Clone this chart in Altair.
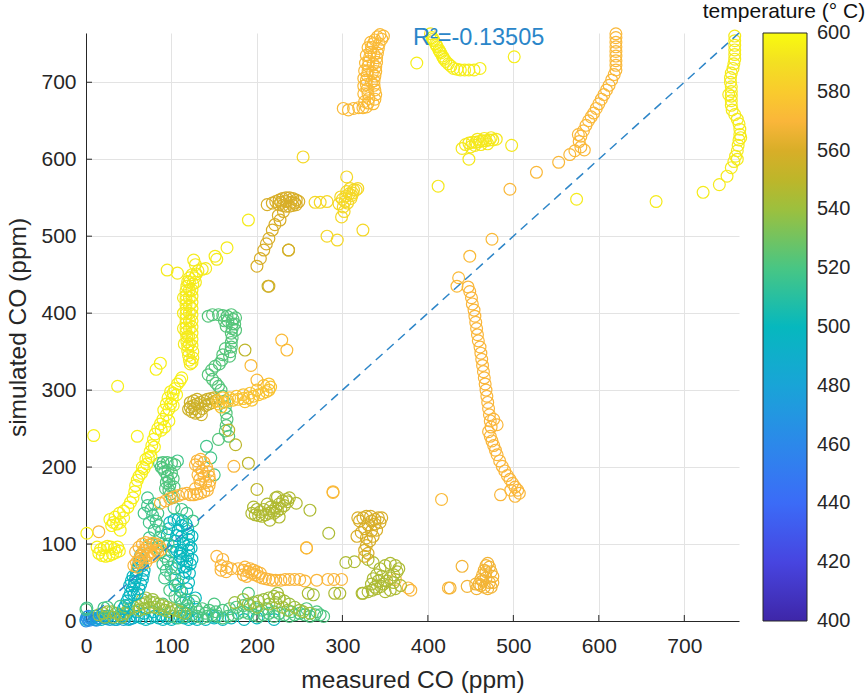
import altair as alt
import pandas as pd

FONT = "Liberation Sans"
INK = "#262626"

x_ticks = [0, 100, 200, 300, 400, 500, 600, 700]
y_ticks = [0, 100, 200, 300, 400, 500, 600, 700]
cbar_values = [400, 420, 440, 460, 480, 500, 520, 540, 560, 580, 600]
cbar_inner_ticks = [420, 440, 460, 480, 500, 520, 540, 560, 580]
temp_stops = [400, 420, 440, 460, 480, 500, 520, 540, 550, 560, 570, 580, 590, 600]
parula_colors = ["#3E26A8", "#4745E0", "#3B6BF7", "#2C88EA", "#19A4D7", "#06B8BE",
                 "#48C684", "#9CC03E", "#BDB62A", "#D8AE28", "#FAB63A", "#F9CB2D",
                 "#F3E022", "#F9FB0E"]
diag_line = [0, 764]
r2_value = -0.13505
x_title = "measured CO (ppm)"
y_title = "simulated CO (ppm)"
cbar_title = "temperature (\u00b0 C)"

# ---- measured / simulated CO point groups, each with its temperature ----
teal_bottom_temp = 500
teal_bottom_pts = [(0, 2), (5, 4), (10, 6), (14, 4), (18, 2), (22, 4), (26, 6), (30, 4), (34, 2), (38, 4),
                   (42, 6), (46, 4), (50, 2), (55, 4), (60, 6), (65, 4), (70, 2), (75, 4), (80, 6), (85, 4),
                   (90, 2), (95, 4), (100, 2), (105, 4), (110, 6), (115, 4), (120, 2), (125, 4), (130, 2),
                   (140, 2), (150, 4), (160, 2), (170, 4), (185, 2), (200, 4), (220, 2), (150, 6), (68, 10),
                   (78, 12), (88, 8), (58, 12), (48, 10), (118, 10), (128, 30), (112, 38), (120, 24)]
blue_origin_temp = 465
blue_origin_pts = [(0, 0), (2, 2), (4, 1), (6, 3), (8, 4), (1, 5), (3, 6), (10, 2), (12, 1)]
cyan_bottom_temp = 482
cyan_bottom_pts = [(12, 2), (16, 4), (20, 6), (24, 3), (28, 2), (36, 2), (44, 2), (52, 3)]
green_bottom_temp = 521
green_bottom_pts = [(0, 15), (25, 18), (50, 20), (90, 22), (100, 6), (108, 4), (116, 6), (124, 8), (130, 6),
                    (136, 4), (142, 6), (148, 8), (154, 6), (160, 4), (166, 6), (172, 8), (178, 10), (184, 12),
                    (190, 10), (196, 8), (202, 6), (208, 8), (214, 10), (220, 12), (226, 10), (232, 8),
                    (238, 6), (244, 8), (250, 10), (256, 8), (262, 6), (268, 8), (274, 8), (278, 6),
                    (112, 14), (120, 16), (128, 18), (136, 16), (144, 14), (152, 12), (160, 14), (168, 16),
                    (176, 18), (184, 20), (192, 20), (150, 22), (126, 26), (110, 30), (98, 40), (104, 32),
                    (118, 20), (132, 12), (140, 10), (198, 16), (206, 14), (212, 16), (220, 6), (240, 12),
                    (258, 16), (270, 12), (190, 36)]
olive_bottom_temp = 540
olive_bottom_pts = [(15, 8), (20, 10), (25, 12), (30, 12), (35, 10), (40, 8), (45, 10), (22, 5), (32, 5),
                    (42, 5), (50, 15), (56, 18), (60, 20), (65, 22), (70, 24), (75, 25), (80, 24), (85, 22),
                    (90, 20), (95, 18), (100, 16), (105, 14), (62, 14), (68, 16), (74, 18), (80, 18), (86, 16),
                    (92, 14), (98, 12), (70, 30), (78, 28), (66, 28), (110, 12), (115, 10), (190, 22),
                    (196, 24), (202, 26), (208, 28), (214, 30), (220, 32), (226, 30), (232, 26), (238, 22),
                    (244, 18), (250, 14), (214, 22), (222, 24), (230, 18), (236, 14), (200, 18), (224, 36),
                    (254, 12), (262, 10), (174, 24), (184, 28), (266, 34)]
teal_low_temp = 498
teal_low_pts = [(46, 20), (48, 26), (50, 31), (52, 36), (54, 41), (56, 46), (57, 51), (58, 56), (59, 61),
                (60, 66), (61, 71), (62, 76), (63, 81), (64, 86), (55, 58), (53, 52), (51, 46), (62, 42),
                (64, 48), (66, 54), (67, 60), (68, 66), (66, 72), (65, 78), (44, 16), (56, 34), (60, 36)]
teal_high_temp = 500
teal_high_pts = [(98, 128), (103, 131), (108, 132), (113, 130), (117, 126), (119, 120), (120, 113),
                 (120, 106), (120, 99), (120, 92), (119, 85), (118, 78), (117, 71), (116, 64), (112, 124),
                 (108, 118), (106, 111), (104, 104), (102, 97), (100, 90), (112, 110), (114, 101), (112, 92),
                 (110, 84), (108, 76), (105, 68), (97, 120), (95, 112), (122, 74), (121, 62), (114, 56),
                 (120, 50), (118, 42), (104, 46), (110, 88), (106, 92), (124, 80), (123, 95), (124, 110),
                 (114, 70), (113, 80)]
green_chain_temp = 518
green_chain_pts = [(80, 152), (76, 145), (78, 137), (82, 130), (85, 124), (88, 116), (86, 108), (90, 100),
                   (87, 90), (92, 84), (96, 78), (90, 74), (94, 66), (99, 60), (104, 55), (108, 48), (110, 40),
                   (80, 118), (74, 128), (84, 140), (103, 147), (112, 145), (118, 140), (125, 130), (72, 150),
                   (74, 108), (78, 100), (84, 96), (107, 208), (141, 227), (146, 212), (150, 190), (1, 17),
                   (21, 17), (40, 19), (112, 24), (117, 28), (72, 160), (68, 140), (96, 100), (100, 70),
                   (92, 56)]
green_col_temp = 522
green_col_pts = [(86, 205), (90, 206), (95, 206), (100, 205), (104, 203), (90, 198), (96, 196), (100, 192),
                 (95, 188), (97, 182), (98, 176), (97, 170), (99, 165), (101, 160), (94, 180), (102, 185),
                 (88, 200), (93, 172), (103, 174), (92, 194)]
orange_left_temp = 570
orange_left_pts = [(15, 116), (56, 72), (59, 76), (62, 80), (64, 84), (66, 88), (68, 92), (71, 96), (74, 99),
                   (78, 101), (82, 100), (86, 97), (88, 93), (84, 90), (80, 88), (76, 90), (72, 86), (68, 82),
                   (64, 76), (60, 70), (70, 76), (74, 82), (78, 84), (82, 92), (58, 90), (62, 96), (66, 100),
                   (70, 102)]
orange_mid_temp = 570
orange_mid_pts = [(130, 208), (134, 210), (138, 206), (141, 200), (143, 194), (144, 188), (145, 182),
                  (144, 176), (142, 170), (138, 168), (134, 166), (130, 165), (126, 164), (122, 164),
                  (132, 200), (136, 195), (138, 188), (140, 180), (134, 178), (128, 172), (131, 190),
                  (133, 184), (128, 203), (118, 166), (113, 165), (108, 163), (103, 161), (98, 159),
                  (93, 156), (87, 153), (173, 201)]
yellow_lower_temp = 596
yellow_lower_pts = [(9, 241), (1, 114), (15, 88), (19, 85), (23, 84), (27, 85), (31, 87), (35, 89), (39, 91),
                    (17, 93), (21, 95), (25, 97), (29, 96), (33, 94), (37, 96), (13, 96), (28, 132), (32, 128),
                    (36, 126), (40, 128), (30, 124), (34, 135), (39, 140), (44, 143), (49, 148), (52, 154),
                    (55, 160), (57, 168), (58, 176), (60, 183), (62, 188), (65, 192), (68, 198), (71, 204),
                    (73, 212), (75, 220), (77, 228), (79, 236), (81, 243), (84, 250), (87, 256), (90, 262),
                    (94, 268), (97, 275), (99, 282), (101, 289), (102, 296), (104, 302), (107, 308), (110, 312),
                    (96, 290), (94, 282), (91, 274), (99, 298), (37, 305), (60, 240), (87, 335), (82, 327),
                    (112, 316), (40, 118), (44, 134), (70, 210), (66, 200), (76, 214), (80, 226), (88, 248),
                    (92, 252), (97, 260), (102, 280), (106, 294)]
yellow_upper_temp = 594
yellow_upper_pts = [(95, 456), (107, 452), (128, 463), (140, 458), (153, 470), (165, 485), (190, 521),
                    (126, 469), (151, 474), (131, 455), (136, 457), (124, 450), (121, 446), (119, 441),
                    (118, 435), (117, 429), (117, 423), (117, 417), (117, 411), (117, 405), (117, 399),
                    (117, 393), (117, 387), (117, 381), (117, 375), (118, 369), (118, 363), (119, 357),
                    (119, 351), (120, 345), (121, 339), (122, 334), (124, 336), (125, 342), (125, 350),
                    (124, 358), (124, 366), (124, 374), (124, 382), (124, 390), (124, 398), (124, 406),
                    (124, 414), (124, 422), (124, 430), (125, 438), (127, 446), (129, 451), (121, 360),
                    (121, 380), (121, 400), (121, 420), (114, 380), (114, 400), (114, 420), (115, 360),
                    (128, 440), (121, 440), (120, 370), (121, 390), (121, 410), (121, 430)]
green_blob_temp = 523
green_blob_pts = [(143, 396), (148, 398), (155, 398), (160, 397), (165, 396), (170, 398), (172, 392),
                  (171, 386), (171, 380), (170, 374), (171, 368), (170, 362), (170, 356), (169, 350),
                  (168, 344), (175, 394), (174, 386), (175, 378), (166, 390), (162, 390), (164, 383),
                  (159, 339), (156, 334), (151, 331), (147, 326), (143, 320), (148, 314), (152, 309),
                  (155, 305), (158, 300), (160, 292), (162, 285), (163, 278), (164, 270), (165, 262),
                  (164, 254), (163, 247), (167, 240), (155, 236), (160, 346), (163, 354)]
olive_blob_temp = 556
olive_blob_pts = [(122, 278), (126, 280), (130, 282), (134, 284), (138, 286), (142, 288), (146, 289),
                  (150, 290), (124, 272), (128, 270), (132, 272), (136, 276), (140, 280), (144, 282),
                  (126, 286), (130, 288), (122, 284), (148, 284), (152, 286), (120, 275), (127, 276),
                  (135, 268)]
orange_band_temp = 576
orange_band_pts = [(155, 282), (160, 284), (166, 286), (172, 287), (178, 288), (184, 289), (190, 290),
                   (196, 292), (202, 294), (207, 296), (211, 298), (214, 300), (216, 304), (214, 308),
                   (208, 306), (200, 300), (192, 296), (184, 294), (176, 292), (168, 290), (160, 290),
                   (158, 278), (154, 286), (186, 285), (194, 287)]
olive_mid_temp = 546
olive_mid_pts = [(194, 140), (198, 138), (202, 137), (206, 136), (210, 138), (214, 140), (218, 143),
                 (222, 147), (226, 152), (230, 156), (234, 158), (236, 155), (232, 150), (228, 146),
                 (224, 143), (220, 140), (216, 148), (212, 152), (208, 145), (204, 142), (200, 145),
                 (196, 148), (238, 160), (224, 161), (226, 135), (215, 131), (246, 153), (222, 160)]
orange_low_temp = 570
orange_low_pts = [(153, 84), (158, 72), (165, 70), (170, 68), (178, 68), (184, 66), (190, 64), (194, 62),
                  (198, 60), (202, 58), (206, 56), (210, 55), (214, 54), (218, 53), (222, 53), (228, 53),
                  (233, 54), (238, 54), (244, 54), (250, 54), (256, 52), (270, 53), (158, 66), (164, 64),
                  (186, 70), (192, 68), (196, 66), (200, 64), (204, 62), (184, 60), (188, 58), (283, 54),
                  (290, 54), (299, 54), (362, 54), (377, 43), (380, 40), (424, 43), (289, 168), (258, 95),
                  (160, 80)]
olive_lowr_temp = 545
olive_lowr_pts = [(324, 36), (330, 38), (335, 40), (340, 42), (345, 45), (348, 48), (352, 52), (356, 56),
                  (360, 60), (364, 64), (366, 68), (362, 72), (356, 75), (350, 72), (344, 68), (340, 60),
                  (336, 55), (334, 48), (342, 52), (346, 58), (338, 44), (350, 38), (356, 40), (362, 42),
                  (368, 46), (360, 50), (291, 36), (297, 36), (323, 36), (314, 77), (262, 144), (284, 114),
                  (260, 36), (304, 76), (330, 80), (336, 76), (226, 30)]
golden_lowr_temp = 560
golden_lowr_pts = [(317, 110), (322, 115), (326, 120), (330, 125), (334, 130), (338, 132), (342, 134),
                   (320, 130), (324, 134), (328, 136), (333, 136), (338, 126), (340, 118), (336, 110),
                   (332, 104), (328, 98), (326, 92), (330, 88), (326, 84), (318, 134), (344, 128),
                   (346, 134), (328, 108), (334, 117)]
orange_lr_temp = 568
orange_lr_pts = [(440, 71), (426, 43), (446, 45), (457, 42), (460, 48), (462, 54), (464, 60), (466, 66),
                 (468, 72), (470, 75), (472, 70), (474, 64), (476, 58), (476, 50), (474, 44), (470, 42),
                 (466, 44), (462, 46), (464, 52), (468, 56), (472, 50), (468, 64), (456, 48)]
orange_curve_temp = 570
orange_curve_pts = [(447, 434), (449, 428), (451, 420), (452, 412), (454, 404), (455, 396), (456, 388),
                    (457, 380), (458, 372), (459, 364), (461, 356), (462, 348), (463, 340), (464, 332),
                    (465, 324), (466, 316), (467, 308), (468, 300), (469, 292), (470, 284), (471, 276),
                    (472, 268), (473, 260), (474, 252), (471, 246), (473, 240), (475, 234), (477, 228),
                    (479, 222), (481, 216), (484, 208), (487, 201), (490, 195), (493, 189), (496, 184),
                    (499, 179), (502, 174), (505, 170), (507, 166), (502, 162), (497, 170), (485, 164),
                    (477, 262), (481, 255)]
orange_misc_temp = 572
orange_misc_pts = [(193, 332), (200, 313), (229, 365), (235, 352), (289, 167), (416, 158), (258, 95),
                   (475, 496), (449, 474), (436, 446), (434, 435)]
olive_misc_temp = 550
olive_misc_pts = [(190, 205), (200, 171), (175, 229), (167, 248), (186, 352), (213, 435), (237, 482)]
dark_gold_temp = 560
dark_gold_pts = [(212, 541), (218, 543), (222, 545), (226, 547), (230, 549), (234, 550), (238, 550),
                 (242, 549), (246, 547), (249, 545), (246, 541), (242, 540), (238, 539), (234, 539),
                 (230, 540), (226, 541), (234, 545), (228, 544), (240, 544), (244, 543), (227, 521),
                 (221, 515), (218, 508), (214, 497), (208, 482), (200, 461), (237, 482), (214, 435),
                 (231, 532), (225, 527), (211, 490), (204, 471)]
gold_mid_temp = 586
gold_mid_pts = [(305, 558), (301, 538), (313, 560), (305, 577), (299, 525), (324, 508), (282, 500),
                (294, 495), (254, 603), (268, 544), (274, 544), (282, 545), (300, 548), (304, 552),
                (308, 555), (310, 549), (306, 543), (302, 532), (312, 556), (316, 560), (318, 562),
                (309, 562), (296, 542), (303, 545), (298, 551), (311, 553)]
orange_top_temp = 572
orange_top_pts = [(301, 666), (307, 664), (313, 666), (319, 667), (324, 667), (328, 668), (330, 673),
                  (331, 679), (330, 685), (329, 691), (328, 697), (328, 703), (329, 709), (330, 715),
                  (330, 721), (331, 727), (332, 733), (333, 739), (334, 745), (336, 750), (338, 755),
                  (341, 759), (344, 762), (336, 672), (338, 678), (339, 684), (338, 690), (337, 696),
                  (337, 702), (338, 708), (339, 714), (339, 720), (340, 726), (340, 732), (341, 738),
                  (342, 744), (343, 750), (346, 756), (348, 760), (334, 700), (335, 712), (336, 724),
                  (337, 736), (326, 675), (325, 685), (325, 695), (325, 705), (326, 715), (327, 725),
                  (328, 735), (330, 745), (333, 752)]
orange_ur_temp = 571
orange_ur_pts = [(496, 561), (527, 583), (553, 596), (566, 606), (572, 611), (579, 616), (577, 623),
                 (579, 630), (582, 637), (585, 644), (588, 650), (591, 655), (594, 660), (597, 666),
                 (600, 672), (603, 678), (606, 684), (609, 690), (612, 696), (615, 703), (618, 710),
                 (620, 716), (620, 722), (620, 728), (620, 734), (620, 740), (620, 746), (620, 752),
                 (620, 758), (620, 763), (583, 612), (576, 632)]
yellow_right_temp = 594
yellow_right_pts = [(722, 557), (741, 567), (750, 578), (755, 589), (758, 597), (760, 604), (762, 611),
                    (763, 618), (764, 625), (765, 632), (765, 639), (764, 646), (762, 652), (759, 658),
                    (756, 664), (755, 670), (755, 676), (755, 682), (755, 688), (755, 694), (754, 700),
                    (754, 706), (755, 712), (757, 718), (758, 724), (759, 730), (759, 736), (759, 742),
                    (759, 748), (759, 754), (759, 760), (762, 600), (766, 628), (752, 684), (574, 548),
                    (667, 545)]
yellow_mid_temp = 593
yellow_mid_pts = [(440, 614), (444, 619), (448, 621), (452, 622), (456, 622), (460, 623), (464, 624),
                  (468, 624), (472, 625), (476, 625), (480, 626), (470, 620), (462, 619), (455, 618),
                  (466, 627), (474, 628), (458, 626), (450, 616), (498, 618), (448, 600), (412, 565)]
yellow_top_temp = 595
yellow_top_pts = [(403, 763), (405, 758), (407, 754), (409, 750), (411, 746), (413, 742), (415, 738),
                  (417, 734), (419, 730), (421, 727), (424, 724), (427, 721), (430, 718), (434, 717),
                  (438, 716), (443, 716), (448, 716), (454, 716), (461, 718), (387, 725), (501, 733),
                  (406, 756), (410, 748), (414, 740), (418, 732)]

groups = [
    (teal_bottom_pts, teal_bottom_temp), (blue_origin_pts, blue_origin_temp),
    (cyan_bottom_pts, cyan_bottom_temp), (green_bottom_pts, green_bottom_temp),
    (olive_bottom_pts, olive_bottom_temp), (teal_low_pts, teal_low_temp),
    (teal_high_pts, teal_high_temp), (green_chain_pts, green_chain_temp),
    (green_col_pts, green_col_temp), (orange_left_pts, orange_left_temp),
    (orange_mid_pts, orange_mid_temp), (yellow_lower_pts, yellow_lower_temp),
    (yellow_upper_pts, yellow_upper_temp), (green_blob_pts, green_blob_temp),
    (olive_blob_pts, olive_blob_temp), (orange_band_pts, orange_band_temp),
    (olive_mid_pts, olive_mid_temp), (orange_low_pts, orange_low_temp),
    (olive_lowr_pts, olive_lowr_temp), (golden_lowr_pts, golden_lowr_temp),
    (orange_lr_pts, orange_lr_temp), (orange_curve_pts, orange_curve_temp),
    (orange_misc_pts, orange_misc_temp), (olive_misc_pts, olive_misc_temp),
    (dark_gold_pts, dark_gold_temp), (gold_mid_pts, gold_mid_temp),
    (orange_top_pts, orange_top_temp), (orange_ur_pts, orange_ur_temp),
    (yellow_right_pts, yellow_right_temp), (yellow_mid_pts, yellow_mid_temp),
    (yellow_top_pts, yellow_top_temp),
]

rows = []
for pts, t in groups:
    for mx, sy in pts:
        rows.append({"measured": mx, "simulated": sy, "temperature": t})
df = pd.DataFrame(rows)

W, H = 653, 588
CB_X = 677
CB_W = 44

x_enc = alt.X("measured:Q",
              scale=alt.Scale(domain=[0, 764], nice=False, zero=False),
              axis=alt.Axis(values=x_ticks, title=x_title, labelPadding=14, labelFlush=False,
                            titleX=W / 2, titleY=66, titleBaseline="alphabetic",
                            titleAlign="center"))
y_enc = alt.Y("simulated:Q",
              scale=alt.Scale(domain=[0, 764], nice=False, zero=False),
              axis=alt.Axis(values=y_ticks, title=y_title, labelPadding=10, labelFlush=False,
                            titleX=-61, titleY=H / 2, titleBaseline="alphabetic",
                            titleAlign="center"))

points = alt.Chart(df).mark_point(shape="circle", filled=False, size=140,
                                  strokeWidth=1.2, opacity=1).encode(
    x=x_enc, y=y_enc,
    color=alt.Color("temperature:Q",
                    scale=alt.Scale(domain=temp_stops, range=parula_colors,
                                    interpolate="rgb"),
                    legend=alt.Legend(title=None, orient="none", legendX=CB_X, legendY=0,
                                      direction="vertical", gradientLength=H,
                                      gradientThickness=CB_W, gradientStrokeColor=INK,
                                      gradientStrokeWidth=1, values=cbar_values,
                                      labelOpacity=0, labelFontSize=1,
                                      labelOverlap=False, padding=0))
)

diag_df = pd.DataFrame({"measured": diag_line, "simulated": diag_line})
diag = alt.Chart(diag_df).mark_line(color="#2E86C8", strokeWidth=1.5,
                                    strokeDash=[9, 6]).encode(x=x_enc, y=y_enc)

xt_df = pd.DataFrame({"measured": x_ticks[1:]})
x_inner = alt.Chart(xt_df).mark_rule(color=INK, strokeWidth=1).encode(
    x=x_enc, y=alt.value(H), y2=alt.value(H - 6))
yt_df = pd.DataFrame({"simulated": y_ticks[1:]})
y_inner = alt.Chart(yt_df).mark_rule(color=INK, strokeWidth=1).encode(
    y=y_enc, x=alt.value(0), x2=alt.value(6))

cb_scale = alt.Scale(domain=[400, 600], range=[H, 0])
cb_df = pd.DataFrame({"cbtick": cbar_inner_ticks})
cb_ticks = alt.Chart(cb_df).mark_rule(color=INK, strokeWidth=1).encode(
    y=alt.Y("cbtick:Q", scale=cb_scale, axis=None),
    x=alt.value(CB_X + CB_W - 5), x2=alt.value(CB_X + CB_W))
cbl_df = pd.DataFrame({"cbtick": cbar_values})
cb_labels = alt.Chart(cbl_df).mark_text(font=FONT, fontSize=20, color=INK, align="left",
                                        baseline="middle").encode(
    y=alt.Y("cbtick:Q", scale=cb_scale, axis=None),
    x=alt.value(CB_X + CB_W + 10),
    text=alt.Text("cbtick:Q", format="d"))
cb_layer = alt.layer(cb_ticks, cb_labels)

BLUE = "#2A86C9"
r2_df = pd.DataFrame({"t": ["R\u00b2=" + str(r2_value)]})
r2_text = alt.Chart(r2_df).mark_text(font=FONT, fontSize=23.5, color=BLUE,
                                     align="left", baseline="alphabetic").encode(
    text="t:N", x=alt.value(327), y=alt.value(12))

ct_df = pd.DataFrame({"t": [cbar_title]})
cbar_title_text = alt.Chart(ct_df).mark_text(font=FONT, fontSize=21, color="#111111",
                                             align="center", baseline="alphabetic").encode(
    text="t:N", x=alt.value(698), y=alt.value(-15))

main = alt.layer(points, diag, x_inner, y_inner, r2_text, cbar_title_text)

chart = alt.layer(main, cb_layer).resolve_scale(y="independent").properties(
    width=W, height=H,
    padding={"left": 86, "top": 33, "right": 127, "bottom": 75},
    autosize=alt.AutoSizeParams(type="none"),
    background="white",
).configure_view(stroke=None).configure_axis(
    grid=True, gridColor="#E3E3E3", gridWidth=1,
    domain=True, domainColor=INK, domainWidth=1,
    ticks=False, tickSize=0,
    labelFont=FONT, labelFontSize=21, labelColor=INK,
    titleFont=FONT, titleFontSize=24.5, titleColor=INK, titleFontWeight="normal",
).configure_legend(gradientVerticalMaxLength=700, gradientVerticalMinLength=100)

chart.save("out.html", embed_options={"renderer": "svg", "actions": False})
